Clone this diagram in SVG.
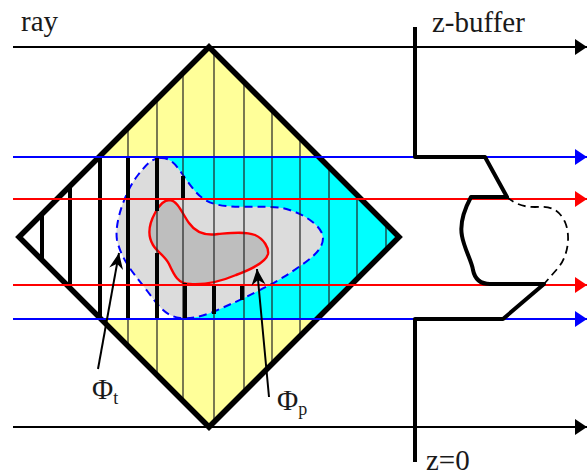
<svg xmlns="http://www.w3.org/2000/svg" width="587" height="476" viewBox="0 0 587 476">
<style>
text{font-family:"Liberation Serif","Times New Roman",serif;fill:#1a1a1a}
.lbl{font-size:29px}
.sub{font-size:18px}
.ray{fill:none;stroke-width:2}
.thin{stroke:#222;stroke-width:1.2;fill:none}
.bold{stroke:#000;stroke-width:4;fill:none}
.z{stroke:#000;stroke-width:4;fill:none;stroke-linejoin:round}
</style>
<defs>
<marker id="ak" markerUnits="userSpaceOnUse" markerWidth="12" markerHeight="16" refX="12" refY="8" orient="auto"><path d="M0 0L12 8L0 16z" fill="#000"/></marker>
<marker id="ab" markerUnits="userSpaceOnUse" markerWidth="12" markerHeight="16" refX="12" refY="8" orient="auto"><path d="M0 0L12 8L0 16z" fill="#00f"/></marker>
<marker id="ar" markerUnits="userSpaceOnUse" markerWidth="12" markerHeight="16" refX="12" refY="8" orient="auto"><path d="M0 0L12 8L0 16z" fill="#f00"/></marker>
<marker id="ln" markerUnits="userSpaceOnUse" markerWidth="17" markerHeight="16" refX="16" refY="8" orient="auto"><path d="M0 1L16 8L0 15L5 8z" fill="#000"/></marker>
</defs>
<path id="diamond-fill" d="M209 47L399 237L209 427L19 237z" fill="#ffff99"/>
<path d="M19 237L99 157H166L184 319H101z" fill="#fff"/>
<path d="M166 157H319L399 237L317 319H184z" fill="#0ff"/>
<path id="phi-t" d="M160 158C172 157 178 168 185 178C194 190 200 200 215 204C232 209 262 205 282 208C302 212 323 226 323 238C323 252 306 262 290 273C270 286 245 298 213 312C200 317 190 319 180 318C165 316 158 305 148 292C136 276 122 262 117 240C114 222 126 190 138 175C146 165 152 158 160 158z" fill="#dcdcdc" stroke="#00f" stroke-width="2" stroke-dasharray="8 5"/>
<path id="phi-p" d="M170 200C178 201 183 215 189 223C196 233 205 236 218 234C230 233 245 231 255 235C264 239 269 248 268 254C266 262 250 270 236 275C222 281 205 285 190 284C178 284 174 275 169 264C165 256 158 253 153 245C147 235 149 224 155 213C159 205 164 200 170 200z" fill="#bebebe" stroke="#f00" stroke-width="2.4"/>
<path id="verticals" class="thin" d="M128 128V346M157 99V375M183 73V401M214 52V422M244 82V392M272 110V364M300 138V336M329 167V307M357 195V279M386 224V250"/>
<path id="bold-segments" class="bold" d="M42 216V258M70 188V286M100 158V318M128 158V318M157 158V211M157 253V318M183 176V199M185 283V318M214 285V314M242 286V300"/>
<path id="diamond" d="M209 47L399 237L209 427L19 237z" fill="none" stroke="#000" stroke-width="5.5" stroke-linejoin="miter"/>
<g id="connectors">
<line class="ray" x1="13" y1="47" x2="587" y2="47" stroke="#000" marker-end="url(#ak)"/>
<line class="ray" x1="13" y1="427" x2="587" y2="427" stroke="#000" marker-end="url(#ak)"/>
<line class="ray" x1="13" y1="157" x2="587" y2="157" stroke="#00f" marker-end="url(#ab)"/>
<line class="ray" x1="13" y1="319" x2="587" y2="319" stroke="#00f" marker-end="url(#ab)"/>
<line class="ray" x1="13" y1="199" x2="587" y2="199" stroke="#f00" marker-end="url(#ar)"/>
<line class="ray" x1="13" y1="285" x2="587" y2="285" stroke="#f00" marker-end="url(#ar)"/>
<line x1="98" y1="369" x2="119" y2="253" stroke="#000" stroke-width="2" marker-end="url(#ln)"/>
<line x1="269" y1="397" x2="257" y2="269" stroke="#000" stroke-width="2" marker-end="url(#ln)"/>
</g>
<g id="z-buffer">
<path class="z" d="M415 27V157H485L507 197H471C463 212 460 226 462 236C464 248 472 262 473 270C475 280 481 284 490 284H544L503 319H415V462"/>
<path d="M507 197C516 205 525 207 535 207C550 206 558 208 565 222C571 236 568 256 558 268L544 284" fill="none" stroke="#000" stroke-width="1.8" stroke-dasharray="8 5"/>
</g>
<text class="lbl" x="21" y="31">ray</text>
<text class="lbl" x="432" y="32">z-buffer</text>
<text class="lbl" x="426" y="470">z=0</text>
<text class="lbl" x="92" y="399">Φ<tspan class="sub" dy="5">t</tspan></text>
<text class="lbl" x="277" y="410">Φ<tspan class="sub" dy="5">p</tspan></text>
</svg>
